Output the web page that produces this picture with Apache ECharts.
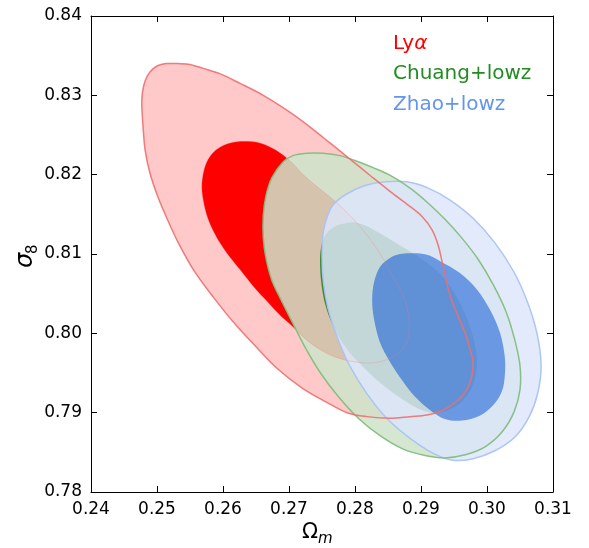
<!DOCTYPE html>
<html>
<head>
<meta charset="utf-8">
<script src="https://cdn.jsdelivr.net/npm/echarts@6/dist/echarts.min.js"></script>
<style>
html,body{margin:0;padding:0;background:#fff;}
#chart{width:589px;height:548px;}
</style>
</head>
<body>
<div id="chart"></div>
<script>
// ---- data ----
const xTicks = [0.24, 0.25, 0.26, 0.27, 0.28, 0.29, 0.30, 0.31];
const yTicks = [0.78, 0.79, 0.80, 0.81, 0.82, 0.83, 0.84];
const seriesNames = ['Ly\u03b1', 'Chuang+lowz', 'Zhao+lowz'];

// Lya 95% contour
const lyaOuter = [[0.2477,0.8288],[0.2478,0.8304],[0.2482,0.8318],[0.2489,0.8329],[0.2500,0.8337],[0.2514,0.8340],[0.2532,0.8340],[0.2550,0.8339],[0.2570,0.8334],[0.2596,0.8327],[0.2626,0.8315],[0.2661,0.8300],[0.2699,0.8280],[0.2732,0.8260],[0.2762,0.8240],[0.2792,0.8220],[0.2823,0.8199],[0.2853,0.8179],[0.2880,0.8162],[0.2902,0.8147],[0.2917,0.8130],[0.2926,0.8111],[0.2932,0.8090],[0.2938,0.8067],[0.2945,0.8045],[0.2956,0.8022],[0.2967,0.8000],[0.2974,0.7981],[0.2979,0.7964],[0.2977,0.7946],[0.2970,0.7930],[0.2955,0.7915],[0.2933,0.7903],[0.2909,0.7897],[0.2883,0.7895],[0.2853,0.7893],[0.2818,0.7895],[0.2788,0.7900],[0.2755,0.7914],[0.2720,0.7931],[0.2683,0.7955],[0.2649,0.7984],[0.2617,0.8013],[0.2585,0.8046],[0.2556,0.8079],[0.2533,0.8113],[0.2515,0.8145],[0.2500,0.8175],[0.2489,0.8203],[0.2482,0.8231],[0.2479,0.8259]];
// Lya 68% contour
const lyaInner = [[0.2611,0.8240],[0.2632,0.8242],[0.2656,0.8240],[0.2680,0.8231],[0.2702,0.8217],[0.2724,0.8198],[0.2747,0.8182],[0.2773,0.8164],[0.2803,0.8139],[0.2832,0.8108],[0.2856,0.8074],[0.2874,0.8045],[0.2882,0.8017],[0.2879,0.7990],[0.2861,0.7972],[0.2830,0.7963],[0.2800,0.7964],[0.2774,0.7969],[0.2750,0.7978],[0.2726,0.7992],[0.2705,0.8009],[0.2686,0.8023],[0.2667,0.8040],[0.2647,0.8058],[0.2626,0.8080],[0.2606,0.8101],[0.2589,0.8123],[0.2577,0.8145],[0.2570,0.8168],[0.2568,0.8189],[0.2573,0.8211],[0.2583,0.8226],[0.2596,0.8235]];
// Chuang+lowz 95% contour
const chuangOuter = [[0.2691,0.8216],[0.2706,0.8224],[0.2727,0.8227],[0.2752,0.8227],[0.2777,0.8224],[0.2803,0.8217],[0.2830,0.8208],[0.2858,0.8197],[0.2885,0.8182],[0.2911,0.8164],[0.2936,0.8144],[0.2962,0.8120],[0.2986,0.8094],[0.3009,0.8062],[0.3029,0.8027],[0.3042,0.7992],[0.3050,0.7959],[0.3050,0.7929],[0.3041,0.7901],[0.3023,0.7876],[0.2997,0.7857],[0.2967,0.7847],[0.2936,0.7843],[0.2906,0.7846],[0.2873,0.7854],[0.2838,0.7871],[0.2805,0.7893],[0.2774,0.7921],[0.2747,0.7951],[0.2724,0.7983],[0.2705,0.8014],[0.2688,0.8042],[0.2674,0.8067],[0.2665,0.8095],[0.2661,0.8121],[0.2661,0.8148],[0.2665,0.8173],[0.2674,0.8196]];
// Chuang+lowz 68% contour
const chuangInner = [[0.2747,0.8090],[0.2749,0.8110],[0.2756,0.8125],[0.2768,0.8134],[0.2782,0.8138],[0.2797,0.8140],[0.2818,0.8135],[0.2842,0.8124],[0.2870,0.8110],[0.2897,0.8096],[0.2920,0.8082],[0.2939,0.8065],[0.2956,0.8043],[0.2970,0.8018],[0.2980,0.7992],[0.2985,0.7966],[0.2982,0.7944],[0.2973,0.7925],[0.2958,0.7911],[0.2938,0.7902],[0.2917,0.7900],[0.2896,0.7905],[0.2868,0.7919],[0.2839,0.7937],[0.2812,0.7958],[0.2788,0.7980],[0.2768,0.8007],[0.2755,0.8036],[0.2749,0.8063]];
// Zhao+lowz 95% contour
const zhaoOuter = [[0.2767,0.8162],[0.2786,0.8175],[0.2814,0.8186],[0.2845,0.8191],[0.2879,0.8191],[0.2911,0.8183],[0.2944,0.8168],[0.2979,0.8145],[0.3012,0.8114],[0.3041,0.8077],[0.3062,0.8038],[0.3076,0.7999],[0.3082,0.7960],[0.3077,0.7925],[0.3064,0.7895],[0.3042,0.7869],[0.3012,0.7852],[0.2979,0.7842],[0.2948,0.7840],[0.2918,0.7849],[0.2883,0.7868],[0.2848,0.7893],[0.2818,0.7924],[0.2792,0.7959],[0.2773,0.7995],[0.2759,0.8032],[0.2752,0.8065],[0.2750,0.8097],[0.2752,0.8128],[0.2758,0.8147]];
// Zhao+lowz 68% contour
const zhaoInner = [[0.2868,0.8100],[0.2888,0.8101],[0.2909,0.8099],[0.2929,0.8091],[0.2959,0.8076],[0.2985,0.8055],[0.3005,0.8029],[0.3020,0.8000],[0.3027,0.7970],[0.3027,0.7947],[0.3023,0.7928],[0.3011,0.7911],[0.2989,0.7896],[0.2962,0.7890],[0.2936,0.7892],[0.2914,0.7903],[0.2891,0.7920],[0.2873,0.7939],[0.2853,0.7964],[0.2838,0.7988],[0.2829,0.8017],[0.2826,0.8042],[0.2829,0.8065],[0.2838,0.8084],[0.2853,0.8095]];

// ---- chart ----
const FONT = 'DejaVu Sans';
const chart = echarts.init(document.getElementById('chart'), null, {renderer: 'canvas'});

// closed Catmull-Rom curve through screen points, as SVG path data
function closedSplinePath(pts) {
  const n = pts.length;
  let d = 'M' + pts[0][0].toFixed(2) + ' ' + pts[0][1].toFixed(2);
  for (let i = 0; i < n; i++) {
    const p0 = pts[(i - 1 + n) % n], p1 = pts[i], p2 = pts[(i + 1) % n], p3 = pts[(i + 2) % n];
    const c1x = p1[0] + (p2[0] - p0[0]) / 6, c1y = p1[1] + (p2[1] - p0[1]) / 6;
    const c2x = p2[0] - (p3[0] - p1[0]) / 6, c2y = p2[1] - (p3[1] - p1[1]) / 6;
    d += ' C' + c1x.toFixed(2) + ' ' + c1y.toFixed(2) + ' ' + c2x.toFixed(2) + ' ' + c2y.toFixed(2) + ' ' + p2[0].toFixed(2) + ' ' + p2[1].toFixed(2);
  }
  return d + ' Z';
}

function contour(name, pts, z, style) {
  return {
    type: 'custom', name: name, z: z, silent: true,
    coordinateSystem: 'cartesian2d',
    xAxisIndex: 0, yAxisIndex: 0,
    data: pts,
    encode: {x: 0, y: 1},
    renderItem: function (params, api) {
      if (params.dataIndex !== 0) return null;
      const points = pts.map(function (p) { return api.coord(p); });
      return {
        type: 'path',
        shape: {pathData: closedSplinePath(points)},
        style: style
      };
    }
  };
}

const axisCommon = {
  type: 'value',
  splitLine: {show: false},
  axisLine: {show: true, onZero: false, lineStyle: {color: '#000', width: 1}},
  axisTick: {show: true, inside: true, length: 6, lineStyle: {color: '#000', width: 1}}
};

const option = {
  animation: false,
  backgroundColor: '#fff',
  grid: {left: 91, top: 16, width: 462, height: 476, containLabel: false},
  xAxis: [
    Object.assign({}, axisCommon, {
      position: 'bottom', min: xTicks[0], max: xTicks[xTicks.length - 1], interval: 0.01,
      axisLabel: {color: '#000', fontFamily: FONT, fontSize: 17, margin: 9,
        formatter: function (v) { return v.toFixed(2); }}
    }),
    Object.assign({}, axisCommon, {
      position: 'top', min: xTicks[0], max: xTicks[xTicks.length - 1], interval: 0.01,
      axisLabel: {show: false}
    })
  ],
  yAxis: [
    Object.assign({}, axisCommon, {
      position: 'left', min: yTicks[0], max: yTicks[yTicks.length - 1], interval: 0.01,
      axisLabel: {color: '#000', fontFamily: FONT, fontSize: 17, margin: 9,
        formatter: function (v) { return v.toFixed(2); }}
    }),
    Object.assign({}, axisCommon, {
      position: 'right', min: yTicks[0], max: yTicks[yTicks.length - 1], interval: 0.01,
      axisLabel: {show: false}
    })
  ],
  series: [
    contour(seriesNames[0] + ' 95%', lyaOuter, 1, {fill: 'rgb(255,201,201)'}),
    contour(seriesNames[0] + ' 68%', lyaInner, 2, {fill: 'rgb(255,0,0)'}),
    contour(seriesNames[1] + ' 95%', chuangOuter, 3, {fill: 'rgba(206,227,202,0.86)'}),
    contour(seriesNames[1] + ' 68%', chuangInner, 4, {fill: 'rgba(55,135,38,0.95)'}),
    contour(seriesNames[2] + ' 95%', zhaoOuter, 5, {fill: 'rgba(220,230,250,0.84)'}),
    contour(seriesNames[2] + ' 68%', zhaoInner, 6, {fill: 'rgba(8,84,212,0.53)'}),
    // outlines on top
    contour(seriesNames[0] + ' 68% edge', lyaInner, 7, {fill: 'none', stroke: 'rgba(240,120,120,0.35)', lineWidth: 0.8}),
    contour(seriesNames[2] + ' 95% edge', zhaoOuter, 8, {fill: 'none', stroke: 'rgba(170,195,242,0.95)', lineWidth: 1.5}),
    contour(seriesNames[1] + ' 95% edge', chuangOuter, 9, {fill: 'none', stroke: 'rgba(130,190,125,0.95)', lineWidth: 1.5}),
    contour(seriesNames[0] + ' 95% edge', lyaOuter, 10, {fill: 'none', stroke: 'rgba(240,110,110,0.9)', lineWidth: 1.5})
  ],
  graphic: [
    {type: 'text', left: 393, top: 34, z: 100, style: {
      text: '{a|Ly}{b|\u03b1}', fill: '#ff0000',
      rich: {a: {fontFamily: FONT, fontSize: 20, fill: '#ff0000'},
             b: {fontFamily: FONT, fontSize: 20, fontStyle: 'italic', fill: '#ff0000'}}
    }},
    {type: 'text', left: 393, top: 64, z: 100, style: {
      text: seriesNames[1], fill: '#228b22', fontFamily: FONT, fontSize: 20
    }},
    {type: 'text', left: 393, top: 95, z: 100, style: {
      text: seriesNames[2], fill: '#6495ed', fontFamily: FONT, fontSize: 20
    }},
    // x axis title  Omega_m
    {type: 'group', left: 302, top: 522, z: 100, children: [
      {type: 'text', x: 0, y: 0, style: {text: '\u03a9', fontFamily: FONT, fontSize: 21, fill: '#000'}},
      {type: 'text', x: 16, y: 10, style: {text: 'm', fontFamily: FONT, fontSize: 15, fontStyle: 'italic', fill: '#000'}}
    ]},
    // y axis title sigma_8 (rotated)
    {type: 'group', x: 14, y: 268, rotation: Math.PI / 2, z: 100, children: [
      {type: 'text', x: 0, y: 0, style: {text: '\u03c3', fontFamily: FONT, fontSize: 24, fontStyle: 'italic', fill: '#000'}},
      {type: 'text', x: 14, y: 12, style: {text: '8', fontFamily: FONT, fontSize: 15, fill: '#000'}}
    ]}
  ]
};
chart.setOption(option);
</script>
</body>
</html>
